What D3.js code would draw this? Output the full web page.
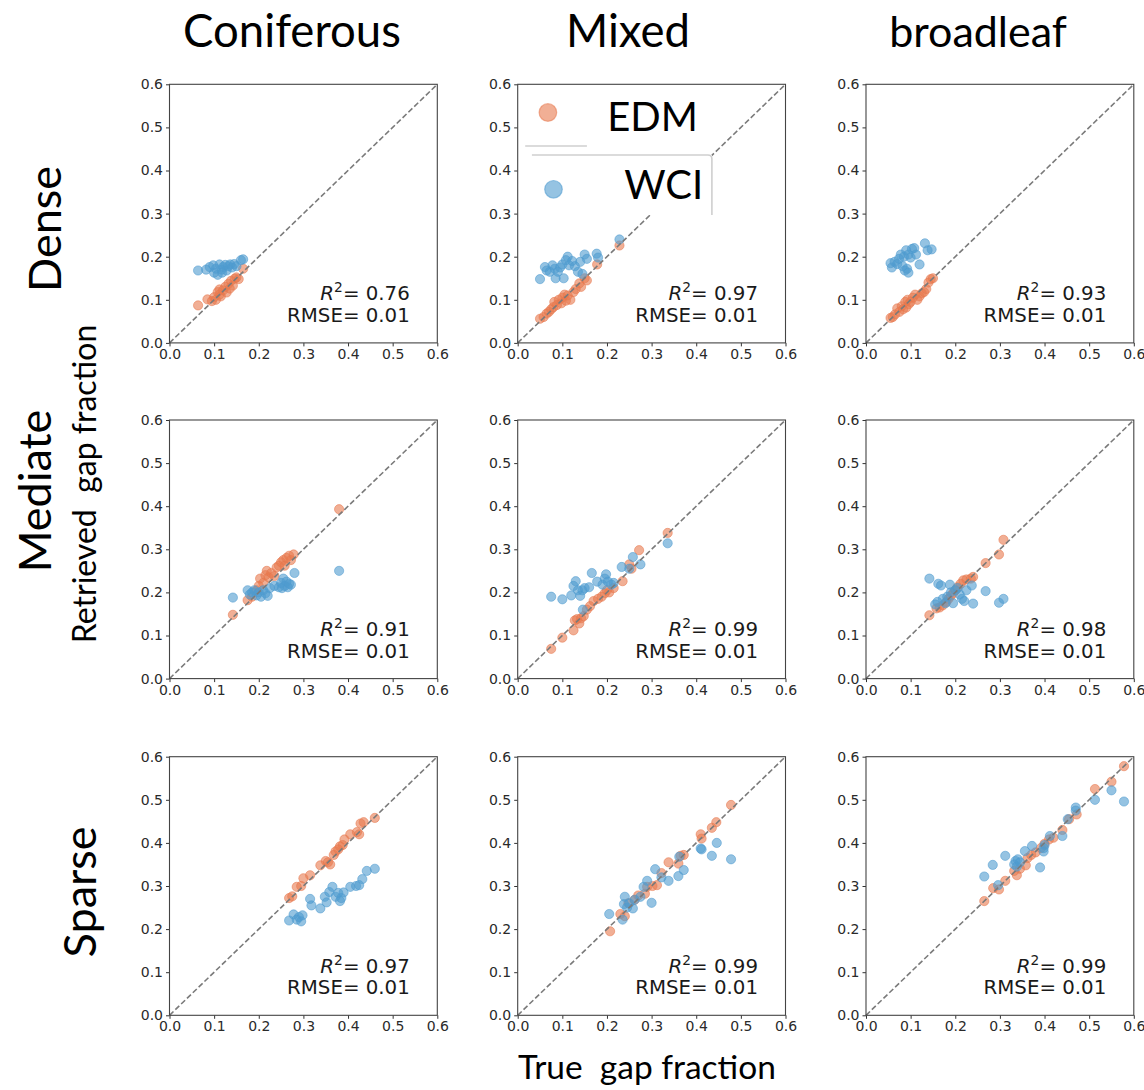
<!DOCTYPE html>
<html>
<head>
<meta charset="utf-8">
<script src="https://cdn.jsdelivr.net/npm/d3@7"></script>
<style>
  html, body { margin: 0; padding: 0; background: #fff; }
  svg { display: block; }
  .tick text { font-family: "DejaVu Sans", sans-serif; font-size: 14px; fill: #2a2a2a; }
  .tick line { stroke: #333; }
  .big { font-family: Lato, "Open Sans", sans-serif; fill: #000; }
</style>
</head>
<body>
<svg id="chart" width="1144" height="1090"></svg>
<script>
// ---- categories, labels and statistics ----
const forestTypes = ["Coniferous", "Mixed", "broadleaf"];
const densities = ["Dense", "Mediate", "Sparse"];
const seriesNames = ["EDM", "WCI"];
const tickValues = [0.0, 0.1, 0.2, 0.3, 0.4, 0.5, 0.6];
const r2Values = [
  [0.76, 0.97, 0.93],
  [0.91, 0.99, 0.98],
  [0.97, 0.99, 0.99]
];
const rmseValues = [
  [0.01, 0.01, 0.01],
  [0.01, 0.01, 0.01],
  [0.01, 0.01, 0.01]
];

// ---- [true, retrieved] gap fraction pairs ----
const denseConiferousEDM = [[0.064,0.087],[0.085,0.101],[0.095,0.097],[0.100,0.106],[0.104,0.100],[0.108,0.118],[0.112,0.124],[0.115,0.108],[0.120,0.122],[0.125,0.130],[0.128,0.117],[0.132,0.137],[0.135,0.126],[0.138,0.144],[0.142,0.133],[0.146,0.149],[0.150,0.152],[0.155,0.148],[0.165,0.172],[0.112,0.112]];
const denseConiferousWCI = [[0.064,0.168],[0.082,0.170],[0.090,0.176],[0.098,0.180],[0.100,0.163],[0.104,0.172],[0.108,0.158],[0.112,0.182],[0.117,0.170],[0.120,0.176],[0.125,0.181],[0.128,0.168],[0.132,0.178],[0.136,0.182],[0.140,0.175],[0.145,0.183],[0.150,0.178],[0.160,0.192],[0.165,0.194],[0.118,0.163]];

const denseMixedEDM = [[0.050,0.056],[0.058,0.060],[0.065,0.068],[0.070,0.072],[0.075,0.078],[0.080,0.083],[0.082,0.095],[0.088,0.088],[0.092,0.100],[0.098,0.092],[0.100,0.105],[0.105,0.112],[0.108,0.098],[0.112,0.110],[0.118,0.100],[0.125,0.118],[0.130,0.125],[0.138,0.138],[0.142,0.130],[0.150,0.150],[0.155,0.145],[0.178,0.182],[0.228,0.226]];
const denseMixedWCI = [[0.050,0.148],[0.061,0.176],[0.065,0.168],[0.072,0.165],[0.078,0.180],[0.083,0.172],[0.085,0.150],[0.090,0.165],[0.095,0.175],[0.100,0.182],[0.103,0.150],[0.108,0.192],[0.112,0.200],[0.115,0.180],[0.122,0.190],[0.128,0.178],[0.135,0.165],[0.140,0.188],[0.145,0.160],[0.150,0.205],[0.155,0.195],[0.177,0.207],[0.180,0.198],[0.228,0.240]];

const denseBroadleafEDM = [[0.055,0.058],[0.060,0.060],[0.065,0.066],[0.070,0.080],[0.075,0.072],[0.080,0.085],[0.083,0.078],[0.088,0.095],[0.090,0.082],[0.093,0.100],[0.096,0.090],[0.100,0.095],[0.105,0.105],[0.110,0.112],[0.115,0.100],[0.120,0.108],[0.125,0.115],[0.130,0.118],[0.135,0.125],[0.140,0.140],[0.145,0.148],[0.150,0.150]];
const denseBroadleafWCI = [[0.055,0.185],[0.058,0.175],[0.064,0.188],[0.070,0.183],[0.074,0.195],[0.078,0.205],[0.082,0.178],[0.085,0.200],[0.087,0.168],[0.090,0.215],[0.092,0.172],[0.095,0.205],[0.100,0.198],[0.103,0.218],[0.108,0.220],[0.112,0.205],[0.120,0.182],[0.132,0.231],[0.138,0.215],[0.147,0.217],[0.095,0.163]];

const mediateConiferousEDM = [[0.142,0.148],[0.175,0.182],[0.185,0.190],[0.195,0.205],[0.200,0.215],[0.203,0.232],[0.210,0.222],[0.215,0.240],[0.218,0.250],[0.222,0.235],[0.228,0.245],[0.235,0.238],[0.240,0.258],[0.245,0.262],[0.250,0.270],[0.255,0.275],[0.258,0.262],[0.262,0.280],[0.268,0.285],[0.272,0.275],[0.278,0.288],[0.380,0.393]];
const mediateConiferousWCI = [[0.142,0.188],[0.175,0.205],[0.180,0.195],[0.185,0.200],[0.190,0.205],[0.195,0.193],[0.200,0.200],[0.205,0.190],[0.210,0.205],[0.215,0.198],[0.220,0.192],[0.225,0.210],[0.235,0.215],[0.245,0.212],[0.250,0.222],[0.252,0.210],[0.255,0.232],[0.258,0.215],[0.262,0.225],[0.265,0.212],[0.268,0.220],[0.272,0.218],[0.280,0.245],[0.380,0.250]];

const mediateMixedEDM = [[0.075,0.069],[0.100,0.095],[0.125,0.112],[0.128,0.135],[0.133,0.138],[0.138,0.128],[0.142,0.140],[0.148,0.145],[0.155,0.160],[0.162,0.168],[0.170,0.180],[0.180,0.185],[0.188,0.190],[0.195,0.198],[0.200,0.205],[0.205,0.200],[0.215,0.210],[0.235,0.226],[0.250,0.265],[0.255,0.255],[0.272,0.298],[0.336,0.338]];
const mediateMixedWCI = [[0.075,0.190],[0.100,0.184],[0.120,0.193],[0.125,0.215],[0.130,0.226],[0.135,0.205],[0.140,0.192],[0.145,0.205],[0.150,0.210],[0.146,0.160],[0.160,0.212],[0.166,0.245],[0.178,0.225],[0.190,0.218],[0.195,0.232],[0.198,0.242],[0.202,0.225],[0.210,0.218],[0.215,0.222],[0.233,0.259],[0.250,0.255],[0.258,0.282],[0.275,0.265],[0.336,0.314]];

const mediateBroadleafEDM = [[0.142,0.147],[0.158,0.163],[0.165,0.165],[0.172,0.170],[0.180,0.178],[0.185,0.185],[0.190,0.192],[0.195,0.198],[0.200,0.205],[0.205,0.212],[0.212,0.220],[0.218,0.228],[0.225,0.230],[0.235,0.232],[0.240,0.236],[0.268,0.268],[0.298,0.288],[0.308,0.322]];
const mediateBroadleafWCI = [[0.142,0.232],[0.155,0.172],[0.160,0.178],[0.162,0.220],[0.168,0.216],[0.172,0.185],[0.178,0.175],[0.182,0.190],[0.188,0.218],[0.190,0.200],[0.195,0.175],[0.200,0.205],[0.205,0.210],[0.210,0.195],[0.215,0.185],[0.220,0.180],[0.225,0.205],[0.237,0.216],[0.240,0.174],[0.268,0.203],[0.298,0.176],[0.308,0.185]];

const sparseConiferousEDM = [[0.268,0.272],[0.275,0.276],[0.285,0.298],[0.295,0.300],[0.300,0.318],[0.315,0.325],[0.338,0.348],[0.350,0.358],[0.355,0.355],[0.360,0.350],[0.368,0.372],[0.372,0.380],[0.378,0.385],[0.382,0.392],[0.388,0.395],[0.392,0.408],[0.405,0.420],[0.420,0.425],[0.428,0.445],[0.435,0.448],[0.425,0.420],[0.460,0.458]];
const sparseConiferousWCI = [[0.268,0.220],[0.278,0.234],[0.285,0.222],[0.290,0.228],[0.298,0.232],[0.295,0.218],[0.315,0.270],[0.318,0.255],[0.338,0.248],[0.348,0.275],[0.352,0.262],[0.358,0.286],[0.365,0.298],[0.372,0.275],[0.378,0.284],[0.382,0.265],[0.385,0.272],[0.390,0.285],[0.405,0.298],[0.418,0.300],[0.425,0.302],[0.432,0.316],[0.442,0.335],[0.460,0.340]];

const sparseMixedEDM = [[0.207,0.195],[0.230,0.235],[0.240,0.230],[0.248,0.260],[0.262,0.268],[0.270,0.278],[0.285,0.282],[0.290,0.298],[0.302,0.300],[0.312,0.302],[0.322,0.330],[0.338,0.355],[0.360,0.352],[0.365,0.370],[0.372,0.372],[0.410,0.420],[0.412,0.410],[0.435,0.435],[0.445,0.448],[0.478,0.488]];
const sparseMixedWCI = [[0.205,0.235],[0.235,0.222],[0.238,0.258],[0.240,0.275],[0.245,0.250],[0.250,0.260],[0.258,0.248],[0.262,0.268],[0.275,0.275],[0.282,0.298],[0.290,0.312],[0.300,0.261],[0.308,0.339],[0.322,0.320],[0.338,0.312],[0.360,0.323],[0.362,0.368],[0.372,0.337],[0.410,0.387],[0.412,0.385],[0.435,0.370],[0.446,0.400],[0.478,0.362]];

const sparseBroadleafEDM = [[0.265,0.265],[0.285,0.295],[0.298,0.292],[0.312,0.312],[0.332,0.335],[0.338,0.325],[0.345,0.340],[0.358,0.348],[0.362,0.365],[0.370,0.372],[0.380,0.378],[0.392,0.388],[0.400,0.398],[0.410,0.408],[0.420,0.412],[0.440,0.430],[0.455,0.455],[0.472,0.466],[0.513,0.525],[0.550,0.542],[0.578,0.578]];
const sparseBroadleafWCI = [[0.265,0.322],[0.284,0.349],[0.296,0.302],[0.312,0.370],[0.332,0.350],[0.335,0.358],[0.338,0.345],[0.340,0.362],[0.345,0.355],[0.356,0.381],[0.372,0.393],[0.390,0.343],[0.398,0.380],[0.400,0.395],[0.398,0.388],[0.412,0.416],[0.440,0.416],[0.452,0.455],[0.470,0.482],[0.470,0.475],[0.513,0.500],[0.550,0.522],[0.578,0.496]];

// grid of panels: rows = canopy density, columns = forest type
const panelData = [
  [[denseConiferousEDM, denseConiferousWCI], [denseMixedEDM, denseMixedWCI], [denseBroadleafEDM, denseBroadleafWCI]],
  [[mediateConiferousEDM, mediateConiferousWCI], [mediateMixedEDM, mediateMixedWCI], [mediateBroadleafEDM, mediateBroadleafWCI]],
  [[sparseConiferousEDM, sparseConiferousWCI], [sparseMixedEDM, sparseMixedWCI], [sparseBroadleafEDM, sparseBroadleafWCI]]
];

// ---- layout ----
const colX = [169.5, 517.7, 866];
const rowY = [84.3, 420, 756.7];
const PW = 267.8, PH = 258.6;
const seriesColor = ["#E8794F", "#4F9BCF"];
const pointR = 4.6;

const svg = d3.select("#chart");
const fmt = d3.format(".1f");
const x = d3.scaleLinear().domain([0, 0.6]).range([0, PW]);
const y = d3.scaleLinear().domain([0, 0.6]).range([PH, 0]);

function drawPoints(g, pts, color, r) {
  g.selectAll(null).data(pts).join("circle")
    .attr("cx", d => x(d[0]))
    .attr("cy", d => y(d[1]))
    .attr("r", r)
    .attr("fill", color).attr("fill-opacity", 0.6)
    .attr("stroke", color).attr("stroke-opacity", 0.55).attr("stroke-width", 1);
}

densities.forEach((dens, ri) => {
  forestTypes.forEach((ft, ci) => {
    const g = svg.append("g").attr("transform", `translate(${colX[ci]},${rowY[ri]})`);

    const ax = g.append("g").attr("transform", `translate(0,${PH})`)
      .call(d3.axisBottom(x).tickValues(tickValues).tickFormat(fmt).tickSize(3.5).tickPadding(2.5));
    ax.select(".domain").remove();
    const ay = g.append("g")
      .call(d3.axisLeft(y).tickValues(tickValues).tickFormat(fmt).tickSize(3.5).tickPadding(3));
    ay.select(".domain").remove();

    const [edm, wci] = panelData[ri][ci];
    const pg = g.append("g");
    drawPoints(pg, edm, seriesColor[0], pointR);
    drawPoints(pg, wci, seriesColor[1], pointR);

    // 1:1 reference line
    g.append("line")
      .attr("x1", x(0)).attr("y1", y(0))
      .attr("x2", x(0.6)).attr("y2", y(0.6))
      .attr("stroke", "#7a7a7a").attr("stroke-width", 1.6)
      .attr("stroke-dasharray", "5.5,2.6");

    // statistics
    const stats = g.append("g")
      .attr("font-family", "DejaVu Sans, sans-serif")
      .attr("font-size", 19.8)
      .attr("fill", "#1a1a1a")
      .attr("text-anchor", "end");
    const t1 = stats.append("text").attr("x", PW - 27.5).attr("y", PH - 42.7);
    t1.append("tspan").attr("font-style", "italic").text("R");
    t1.append("tspan").attr("font-size", 13.8).attr("dy", -8).text("2");
    t1.append("tspan").attr("dy", 8).text("= " + r2Values[ri][ci].toFixed(2));
    stats.append("text").attr("x", PW - 27.5).attr("y", PH - 21)
      .text("RMSE= " + rmseValues[ri][ci].toFixed(2));

    // axes frame
    g.append("rect").attr("width", PW).attr("height", PH)
      .attr("fill", "none").attr("stroke", "#444").attr("stroke-width", 1.1);

    // legend in the upper-middle panel
    if (ri === 0 && ci === 1) {
      const lg = g.append("g");
      lg.append("rect").attr("x", 14.2).attr("y", 70.7).attr("width", 180).attr("height", 60)
        .attr("fill", "#fff");
      lg.append("path")
        .attr("d", "M14.2,70.7 H190.2 Q194.2,70.7 194.2,74.7 V130.7")
        .attr("fill", "none").attr("stroke", "#cfcfcf").attr("stroke-width", 1.6);
      lg.append("line").attr("x1", 7.5).attr("x2", 69.2).attr("y1", 61.7).attr("y2", 61.7)
        .attr("stroke", "#cfcfcf").attr("stroke-width", 1.6);
      const legendItems = [
        { name: seriesNames[0], color: seriesColor[0], mx: 30.2, my: 28.2, tx: 89.5, ty: 46.4 },
        { name: seriesNames[1], color: seriesColor[1], mx: 35.8, my: 105, tx: 106.5, ty: 115 }
      ];
      legendItems.forEach(it => {
        lg.append("circle").attr("cx", it.mx).attr("cy", it.my).attr("r", 8.8)
          .attr("fill", it.color).attr("fill-opacity", 0.6)
          .attr("stroke", it.color).attr("stroke-opacity", 0.55).attr("stroke-width", 1.2);
        lg.append("text").attr("class", "big").attr("x", it.tx).attr("y", it.ty)
          .attr("font-size", 40).text(it.name);
      });
    }
  });
});

// column titles
const titleCx = [292, 628, 978];
const titleSize = [45.5, 45.5, 43];
forestTypes.forEach((t, i) => {
  svg.append("text").attr("class", "big")
    .attr("x", titleCx[i]).attr("y", 47)
    .attr("text-anchor", "middle").attr("font-size", titleSize[i]).text(t);
});

// row labels
const rowLabelPos = [[61, 229], [51, 491], [96, 892]];
densities.forEach((d, i) => {
  const [px, py] = rowLabelPos[i];
  svg.append("text").attr("class", "big")
    .attr("transform", `translate(${px},${py}) rotate(-90)`)
    .attr("text-anchor", "middle").attr("font-size", 45).text(d);
});

// shared axis titles
svg.append("text").attr("class", "big")
  .attr("transform", "translate(96,484) rotate(-90)")
  .attr("text-anchor", "middle").attr("font-size", 32)
  .style("white-space", "pre").text("Retrieved  gap fraction");
svg.append("text").attr("class", "big")
  .attr("x", 647).attr("y", 1079)
  .attr("text-anchor", "middle").attr("font-size", 33.5)
  .style("white-space", "pre").text("True  gap fraction");
</script>
</body>
</html>
